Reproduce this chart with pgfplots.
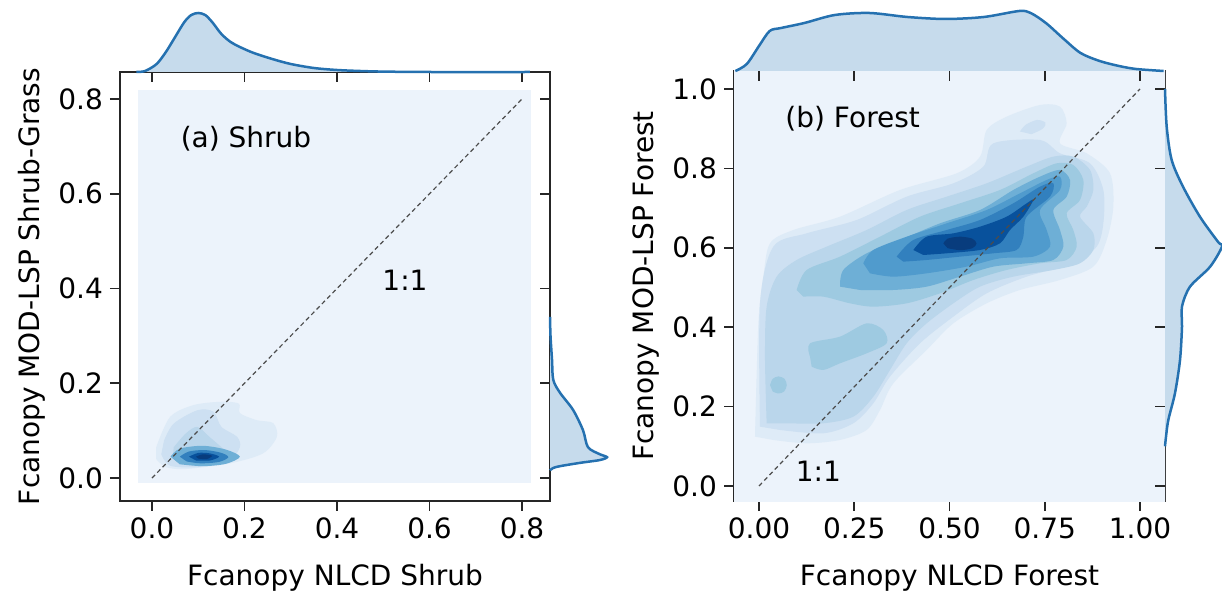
\documentclass[border=0pt]{standalone}
\usepackage{fontspec}
\setmainfont{DejaVu Sans}
\usepackage{pgfplots}
\pgfplotsset{compat=1.18}

\definecolor{bg0}{RGB}{236,243,251}
\definecolor{b1}{RGB}{222,235,247}
\definecolor{b2}{RGB}{205,224,242}
\definecolor{b3}{RGB}{186,214,235}
\definecolor{b4}{RGB}{158,202,225}
\definecolor{b5}{RGB}{110,175,214}
\definecolor{b6}{RGB}{80,155,205}
\definecolor{b7}{RGB}{50,128,190}
\definecolor{b8}{RGB}{25,100,170}
\definecolor{b9}{RGB}{8,81,156}
\definecolor{b10}{RGB}{8,60,125}
\definecolor{kdeline}{RGB}{37,113,176}
\definecolor{kdefill}{RGB}{198,219,236}

\pgfplotsset{
  mainax/.style={
    scale only axis, anchor=south west,
    tick align=outside, xtick pos=bottom, ytick pos=left,
    major tick length=5pt,
    axis line style={line width=0.8pt, black!85},
    every tick/.style={line width=0.8pt, black!85},
    tick label style={font=\fontsize{14}{16}\selectfont},
    /pgf/number format/assume math mode=true,
    every axis y label/.style={at={(axis description cs:-0.187,0.5)}, rotate=90, anchor=base, font=\fontsize{14}{16}\selectfont},
    every axis x label/.style={at={(axis description cs:0.5,-0.196)}, anchor=base, font=\fontsize{14}{16}\selectfont},
  },
  margax/.style={
    scale only axis, anchor=south west, clip=false,
    axis line style={draw=none},
    tick align=outside, major tick length=5pt,
    every tick/.style={line width=0.8pt, black!85},
  },
  kde/.style={draw=kdeline, line width=1.25pt, fill=kdefill, smooth},
  lvl/.style={fill=#1, draw=none, smooth},
  oneone/.style={black!70, line width=0.6pt, dash pattern=on 2.2pt off 1.6pt},
}

\begin{document}
\begin{tikzpicture}
\path[use as bounding box] (0,0) rectangle (611pt,297.5pt);

% ---------- (a) Shrub ----------
\begin{axis}[mainax, at={(60pt,47pt)}, width=215pt, height=214.5pt,
  xmin=-0.0692, xmax=0.8605, ymin=-0.0485, ymax=0.857,
  xtick={0,0.2,0.4,0.6,0.8}, ytick={0,0.2,0.4,0.6,0.8},
  xticklabel style={/pgf/number format/.cd, fixed, fixed zerofill, precision=1},
  yticklabel style={/pgf/number format/.cd, fixed, fixed zerofill, precision=1},
  xlabel={Fcanopy NLCD Shrub}, ylabel={Fcanopy MOD-LSP Shrub-Grass}]
\addplot[lvl=bg0, sharp plot] coordinates {(-0.03,-0.01) (0.82,-0.01) (0.82,0.82) (-0.03,0.82)};
\addplot[lvl=b1] coordinates {(0.009,0.065) (0.039,0.129) (0.09,0.154) (0.15,0.161) (0.188,0.157) (0.19,0.137) (0.227,0.122) (0.262,0.116) (0.27,0.087) (0.24,0.052) (0.169,0.031) (0.073,0.019) (0.03,0.023) (0.009,0.04)};
\addplot[lvl=b2] coordinates {(0.026,0.079) (0.047,0.115) (0.098,0.143) (0.133,0.14) (0.15,0.108) (0.184,0.087) (0.19,0.065) (0.167,0.037) (0.098,0.023) (0.039,0.026) (0.02,0.05)};
\addplot[lvl=b3] coordinates {(0.047,0.065) (0.073,0.094) (0.098,0.108) (0.124,0.087) (0.15,0.065) (0.171,0.044) (0.133,0.03) (0.064,0.03) (0.045,0.045)};
\addplot[lvl=b5] coordinates {(0.04,0.045) (0.06,0.062) (0.11,0.068) (0.16,0.06) (0.19,0.045) (0.16,0.03) (0.11,0.025) (0.06,0.029)};
\addplot[lvl=b7] coordinates {(0.06,0.045) (0.08,0.056) (0.115,0.059) (0.15,0.053) (0.165,0.044) (0.145,0.034) (0.105,0.031) (0.075,0.035)};
\addplot[lvl=b9] coordinates {(0.08,0.045) (0.1,0.053) (0.125,0.052) (0.145,0.045) (0.125,0.037) (0.095,0.037)};
\addplot[lvl=b10] coordinates {(0.095,0.045) (0.11,0.05) (0.13,0.047) (0.118,0.04) (0.1,0.041)};
\addplot[oneone] coordinates {(0,0) (0.8,0.8)};
\node[anchor=west, font=\fontsize{14}{16}\selectfont] at (axis cs:0.047,0.716) {(a) Shrub};
\node[font=\fontsize{14}{16}\selectfont] at (axis cs:0.547,0.417) {1:1};
\end{axis}

\begin{axis}[margax, at={(60pt,261.5pt)}, width=215pt, height=36pt,
  xmin=-0.0692, xmax=0.8605, ymin=0, ymax=72,
  xtick={0,0.2,0.4,0.6,0.8}, xticklabels={}, xtick pos=bottom, ytick=\empty]
\addplot[kde] coordinates {(-0.034,0) (-0.015,1) (0.01,8) (0.03,20) (0.05,35) (0.07,50) (0.085,57) (0.10,59) (0.115,57) (0.13,50) (0.15,38) (0.17,30) (0.19,25) (0.22,19) (0.26,13) (0.30,8) (0.35,4) (0.40,2) (0.45,1) (0.50,0.4) (0.6,0) (0.817,0)};
\end{axis}

\begin{axis}[margax, at={(275pt,47pt)}, width=36pt, height=214.5pt,
  xmin=0, xmax=72, ymin=-0.0485, ymax=0.857,
  ytick={0,0.2,0.4,0.6,0.8}, yticklabels={}, ytick pos=left, xtick=\empty]
\addplot[kde] coordinates {(0,0.34) (0.5,0.30) (2,0.25) (3.3,0.207) (10,0.18) (23,0.144) (33,0.101) (38,0.065) (50,0.05) (57,0.044) (50,0.038) (30,0.032) (10,0.025) (3,0.021) (0,0.016)};
\end{axis}

% ---------- (b) Forest ----------
\begin{axis}[mainax, at={(367pt,47pt)}, width=215.5pt, height=215pt,
  xmin=-0.0656, xmax=1.0656, ymin=-0.0378, ymax=1.0453,
  xtick={0,0.25,0.5,0.75,1}, ytick={0,0.2,0.4,0.6,0.8,1},
  xticklabel style={/pgf/number format/.cd, fixed, fixed zerofill, precision=2},
  yticklabel style={/pgf/number format/.cd, fixed, fixed zerofill, precision=1},
  xlabel={Fcanopy NLCD Forest}, ylabel={Fcanopy MOD-LSP Forest}]
\addplot[lvl=bg0, sharp plot] coordinates {(-0.2,-0.2) (1.2,-0.2) (1.2,1.2) (-0.2,1.2)};
\addplot[lvl=b1] coordinates {(-0.0105,0.1243) (-0.0017,0.4097) (0.0114,0.5273) (0.0289,0.6113) (0.0901,0.6448) (0.2126,0.6784) (0.3701,0.7456) (0.5188,0.7876) (0.5801,0.8296) (0.5976,0.8967) (0.6500,0.9303) (0.7375,0.9597) (0.7900,0.9555) (0.8075,0.9135) (0.7900,0.8631) (0.8600,0.8380) (0.9213,0.7876) (0.9300,0.7036) (0.9125,0.6196) (0.8775,0.5525) (0.7900,0.5189) (0.6850,0.4937) (0.5976,0.4601) (0.5101,0.4097) (0.4401,0.3426) (0.3526,0.2586) (0.3176,0.1914) (0.2826,0.1411) (0.2126,0.1159) (0.1251,0.1075) (0.0376,0.1159)};
\addplot[lvl=b2] coordinates {(0.685,0.893) (0.70,0.91) (0.73,0.922) (0.752,0.915) (0.745,0.9) (0.715,0.886)};
\addplot[lvl=b2] coordinates {(0.0026,0.1495) (0.0026,0.4601) (0.0376,0.6029) (0.1251,0.6364) (0.2563,0.6700) (0.3876,0.7288) (0.5101,0.7624) (0.5888,0.8044) (0.6150,0.8631) (0.7375,0.8715) (0.7900,0.8380) (0.8688,0.8128) (0.9038,0.7456) (0.9038,0.6616) (0.8863,0.6029) (0.8250,0.5609) (0.7025,0.5273) (0.5976,0.4853) (0.5101,0.4265) (0.4226,0.3594) (0.3438,0.2754) (0.3001,0.2082) (0.2476,0.1579) (0.1689,0.1327) (0.0551,0.1411)};
\addplot[lvl=b3] coordinates {(0.0201,0.1579) (0.0157,0.3258) (0.0201,0.4517) (0.0464,0.5273) (0.0989,0.5693) (0.1776,0.6029) (0.2826,0.6448) (0.3876,0.6952) (0.4926,0.7288) (0.5976,0.7624) (0.7025,0.8044) (0.7725,0.8296) (0.8250,0.8296) (0.8688,0.7960) (0.8775,0.7456) (0.8600,0.7036) (0.8425,0.6784) (0.8775,0.6364) (0.8775,0.5945) (0.8425,0.5609) (0.7725,0.5441) (0.6675,0.5273) (0.5801,0.5021) (0.5101,0.4601) (0.4401,0.4097) (0.3876,0.3594) (0.3438,0.2922) (0.3001,0.2250) (0.2476,0.1746) (0.1689,0.1579) (0.0814,0.1579)};
\addplot[lvl=b4] coordinates {(0.029,0.254) (0.036,0.27) (0.051,0.276) (0.067,0.27) (0.073,0.254) (0.066,0.238) (0.051,0.233) (0.036,0.238)};
\addplot[lvl=b4] coordinates {(0.1339,0.3258) (0.1339,0.3594) (0.2126,0.3762) (0.2826,0.4097) (0.3263,0.3929) (0.3351,0.3594) (0.2826,0.3342) (0.2126,0.3090) (0.1689,0.2922) (0.1382,0.3006)};
\addplot[lvl=b4] coordinates {(0.0989,0.4937) (0.1251,0.5441) (0.2126,0.5777) (0.3176,0.6280) (0.4226,0.6784) (0.5276,0.7120) (0.6325,0.7456) (0.7200,0.7876) (0.7813,0.8128) (0.8250,0.8086) (0.8513,0.7708) (0.8425,0.7204) (0.8075,0.6868) (0.8250,0.6448) (0.8338,0.6029) (0.8075,0.5693) (0.7375,0.5609) (0.6500,0.5441) (0.5626,0.5189) (0.4751,0.4853) (0.3876,0.4601) (0.3001,0.4517) (0.2388,0.4601) (0.1689,0.4769) (0.1164,0.4769)};
\addplot[lvl=b5] coordinates {(0.2126,0.5021) (0.2213,0.5441) (0.2826,0.5861) (0.3701,0.6196) (0.4751,0.6616) (0.5801,0.6952) (0.6675,0.7456) (0.7375,0.7792) (0.7900,0.7960) (0.8163,0.7708) (0.8075,0.7288) (0.7725,0.6952) (0.7900,0.6448) (0.7988,0.6029) (0.7725,0.5693) (0.7025,0.5609) (0.6150,0.5525) (0.5276,0.5273) (0.4401,0.5021) (0.3526,0.4937) (0.2651,0.4937)};
\addplot[lvl=b6] coordinates {(0.2738,0.5609) (0.3001,0.5945) (0.3876,0.6280) (0.4926,0.6616) (0.5976,0.6952) (0.6850,0.7372) (0.7550,0.7708) (0.7900,0.7792) (0.7900,0.7456) (0.7375,0.6952) (0.7550,0.6448) (0.7638,0.6029) (0.7200,0.5777) (0.6325,0.5735) (0.5451,0.5525) (0.4401,0.5357) (0.3526,0.5273) (0.2913,0.5357)};
\addplot[lvl=b7] coordinates {(0.3613,0.5777) (0.4051,0.6196) (0.4926,0.6448) (0.5801,0.6700) (0.6675,0.7120) (0.7375,0.7540) (0.7725,0.7624) (0.7638,0.7288) (0.7025,0.6784) (0.6938,0.6280) (0.6763,0.5945) (0.6150,0.5861) (0.5276,0.5777) (0.4401,0.5693) (0.3788,0.5651)};
\addplot[lvl=b9] coordinates {(0.4051,0.5945) (0.4401,0.6280) (0.5101,0.6364) (0.5801,0.6532) (0.6500,0.6784) (0.7025,0.7120) (0.7200,0.7204) (0.6938,0.6784) (0.6588,0.6448) (0.6325,0.6113) (0.5801,0.5945) (0.4926,0.5861) (0.4313,0.5819)};
\addplot[lvl=b10] coordinates {(0.484,0.611) (0.495,0.623) (0.528,0.628) (0.56,0.623) (0.571,0.611) (0.56,0.599) (0.528,0.594) (0.495,0.599)};
\addplot[oneone] coordinates {(0,0) (1,1)};
\node[anchor=west, font=\fontsize{14}{16}\selectfont] at (axis cs:0.051,0.926) {(b) Forest};
\node[font=\fontsize{14}{16}\selectfont] at (axis cs:0.156,0.036) {1:1};
\end{axis}

\begin{axis}[margax, at={(367pt,262pt)}, width=215.5pt, height=35.5pt,
  xmin=-0.0656, xmax=1.0656, ymin=0, ymax=71,
  xtick={0,0.25,0.5,0.75,1}, xticklabels={}, xtick pos=bottom, ytick=\empty]
\addplot[kde] coordinates {(-0.062,0) (-0.032,7) (0.0,25) (0.028,40) (0.058,43) (0.119,48) (0.199,56) (0.29,58) (0.39,54) (0.49,52) (0.59,54) (0.683,60) (0.713,58) (0.753,48) (0.80,32) (0.844,18) (0.894,10) (0.945,5) (0.99,2) (1.062,0)};
\end{axis}

\begin{axis}[margax, at={(582.5pt,47pt)}, width=28.5pt, height=215pt,
  xmin=0, xmax=57, ymin=-0.0378, ymax=1.0453,
  ytick={0,0.2,0.4,0.6,0.8,1}, yticklabels={}, ytick pos=left, xtick=\empty]
\addplot[kde] coordinates {(0,1.0) (1.7,0.905) (6.7,0.821) (18,0.754) (35,0.678) (53,0.615) (57,0.603) (45,0.552) (25,0.502) (17,0.452) (17,0.401) (15,0.317) (10,0.234) (3.3,0.166) (1,0.124) (0,0.1)};
\end{axis}
\end{tikzpicture}
\end{document}
